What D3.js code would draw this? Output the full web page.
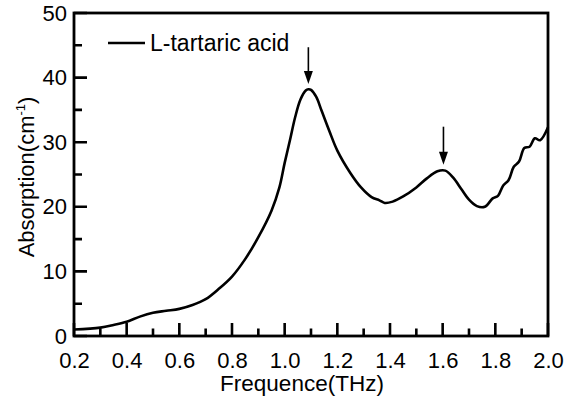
<!DOCTYPE html>
<html>
<head>
<meta charset="utf-8">
<script src="https://cdn.jsdelivr.net/npm/d3@7"></script>
<style>
body { margin: 0; background: #fff; }
text { font-family: "Liberation Sans", Arial, sans-serif; fill: #000; }
</style>
</head>
<body>
<script>
// spectrum
var freq = [0.2, 0.3, 0.35, 0.4, 0.45, 0.5, 0.55, 0.6, 0.65, 0.7, 0.75, 0.8, 0.85, 0.9, 0.95, 0.98,
	1.0, 1.02, 1.04, 1.06, 1.08, 1.09, 1.10, 1.12, 1.14, 1.17, 1.2, 1.25, 1.29, 1.33, 1.36, 1.38,
	1.41, 1.45, 1.5, 1.54, 1.58, 1.61, 1.64, 1.67, 1.70, 1.73, 1.76, 1.79, 1.81, 1.83, 1.85, 1.87,
	1.89, 1.91, 1.93, 1.95, 1.97, 2.0];
var absorption = [1.0, 1.3, 1.7, 2.2, 3.0, 3.6, 3.9, 4.2, 4.8, 5.7, 7.3, 9.2, 11.9, 15.3, 19.4, 23.0,
	26.8, 30.3, 33.9, 36.6, 38.0, 38.2, 38.1, 37.0, 34.9, 31.7, 28.7, 25.2, 23.0, 21.5, 21.0, 20.6,
	20.8, 21.6, 23.0, 24.4, 25.5, 25.6, 24.5, 22.8, 21.1, 20.1, 20.0, 21.3, 21.7, 23.3, 24.1, 26.2,
	27.0, 29.1, 29.3, 30.6, 30.3, 32.3];

var xTicks = [0.2, 0.4, 0.6, 0.8, 1.0, 1.2, 1.4, 1.6, 1.8, 2.0];
var xMinor = [0.3, 0.5, 0.7, 0.9, 1.1, 1.3, 1.5, 1.7, 1.9];
var yTicks = [0, 10, 20, 30, 40, 50];
var yMinor = [5, 15, 25, 35, 45];

// peak markers
var arrowFreq = [1.09, 1.603];
var arrowTop = [44.7, 32.4];
var arrowTip = [39.0, 26.5];

var legendLabel = "L-tartaric acid";

var width = 564, height = 402;
var margin = {top: 13, right: 16, bottom: 66, left: 74};
var w = width - margin.left - margin.right;
var h = height - margin.top - margin.bottom;

var svg = d3.select("body").append("svg")
	.attr("width", width)
	.attr("height", height);

var g = svg.append("g")
	.attr("transform", "translate(" + margin.left + "," + margin.top + ")");

var x = d3.scaleLinear().domain([0.2, 2.0]).range([0, w]);
var y = d3.scaleLinear().domain([0, 50]).range([h, 0]);

// labels only from the axes, ticks drawn by hand (inward)
var xAxis = d3.axisBottom(x).tickValues(xTicks).tickSize(0).tickPadding(16)
	.tickFormat(d3.format(".1f"));
var yAxis = d3.axisLeft(y).tickValues(yTicks).tickSize(0).tickPadding(7)
	.tickFormat(d3.format("d"));

function style(sel) {
	sel.select(".domain").remove();
	sel.selectAll("line").remove();
	sel.selectAll("text").attr("font-size", "22px").attr("fill", "#000")
		.style("font-family", "'Liberation Sans', Arial, sans-serif");
}

g.append("g").attr("transform", "translate(0," + h + ")").call(xAxis).call(style);
g.append("g").call(yAxis).call(style);

// frame
g.append("rect")
	.attr("x", 0).attr("y", 0)
	.attr("width", w).attr("height", h)
	.attr("fill", "none")
	.attr("stroke", "#000")
	.attr("stroke-width", 2.8);

// inward ticks as one path
var tickPath = d3.path();
xTicks.forEach(function(d) { tickPath.moveTo(x(d), h); tickPath.lineTo(x(d), h - 13); });
xMinor.forEach(function(d) { tickPath.moveTo(x(d), h); tickPath.lineTo(x(d), h - 7.5); });
yTicks.forEach(function(d) { tickPath.moveTo(0, y(d)); tickPath.lineTo(13, y(d)); });
yMinor.forEach(function(d) { tickPath.moveTo(0, y(d)); tickPath.lineTo(8, y(d)); });
g.append("path")
	.attr("d", tickPath.toString())
	.attr("fill", "none")
	.attr("stroke", "#000")
	.attr("stroke-width", 2.6);

var line = d3.line()
	.x(function(d, i) { return x(freq[i]); })
	.y(function(d) { return y(d); })
	.curve(d3.curveCatmullRom.alpha(0.5));

g.append("path")
	.datum(absorption)
	.attr("fill", "none")
	.attr("stroke", "#000")
	.attr("stroke-width", 2.6)
	.attr("stroke-linejoin", "round")
	.attr("d", line);

// arrows
arrowFreq.forEach(function(f, i) {
	var ax = x(f), tip = y(arrowTip[i]);
	g.append("line")
		.attr("x1", ax).attr("x2", ax)
		.attr("y1", y(arrowTop[i])).attr("y2", tip - 10)
		.attr("stroke", "#000")
		.attr("stroke-width", 1.6);
	g.append("path")
		.attr("d", "M" + (ax - 4.5) + "," + (tip - 13) + "L" + (ax + 4.5) + "," + (tip - 13) + "L" + ax + "," + tip + "Z")
		.attr("fill", "#000");
});

// legend
var legend = g.append("g").attr("transform", "translate(34,30)");
legend.append("line")
	.attr("x1", 0).attr("x2", 37)
	.attr("y1", 0).attr("y2", 0)
	.attr("stroke", "#000")
	.attr("stroke-width", 2.6);
legend.append("text")
	.attr("x", 42)
	.attr("y", 8)
	.attr("font-size", "23px")
	.text(legendLabel);

// axis titles
svg.append("text")
	.attr("x", 302)
	.attr("y", 391)
	.attr("text-anchor", "middle")
	.attr("font-size", "22.5px")
	.text("Frequence(THz)");

var yt = svg.append("text")
	.attr("transform", "translate(34," + 177 + ") rotate(-90)")
	.attr("text-anchor", "middle")
	.attr("font-size", "22px");
yt.append("tspan").text("Absorption(cm");
yt.append("tspan").attr("font-size", "13px").attr("dy", -9).text("-1");
yt.append("tspan").attr("dy", 9).text(")");
</script>
</body>
</html>
